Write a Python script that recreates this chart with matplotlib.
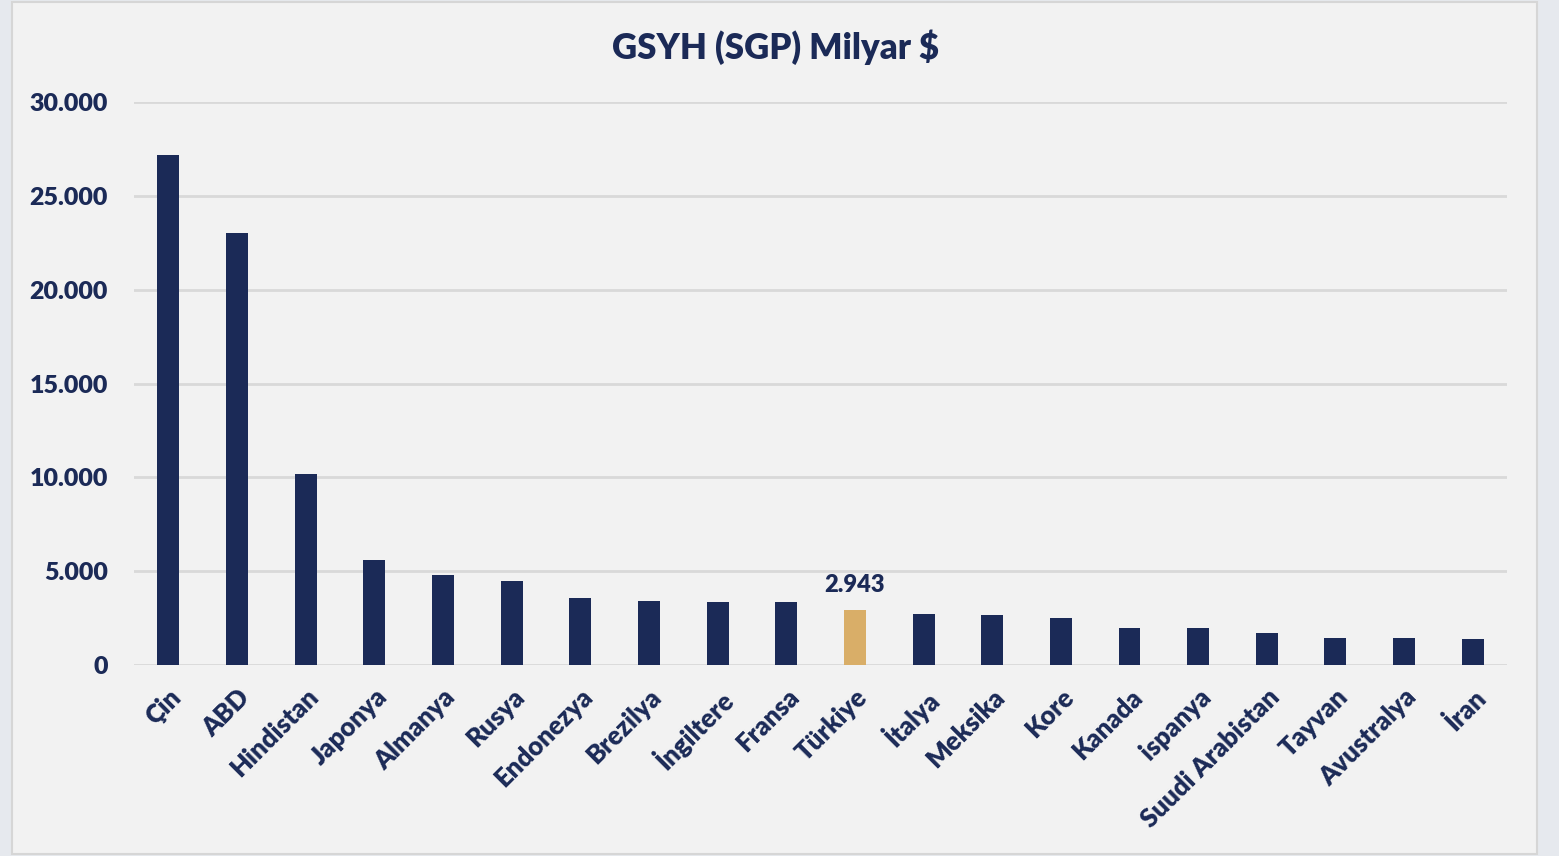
import matplotlib.pyplot as plt
from matplotlib.patches import Rectangle
from matplotlib.ticker import FuncFormatter

plt.rcParams['font.family'] = ['Lato', 'DejaVu Sans']
plt.rcParams['font.weight'] = 'bold'

countries = ['Çin', 'ABD', 'Hindistan', 'Japonya', 'Almanya', 'Rusya', 'Endonezya',
             'Brezilya', 'İngiltere', 'Fransa', 'Türkiye', 'İtalya', 'Meksika', 'Kore',
             'Kanada', 'ispanya', 'Suudi Arabistan', 'Tayvan', 'Avustralya', 'İran']
gdp_ppp = [27200, 23000, 10200, 5600, 4800, 4480, 3570, 3410, 3360, 3340,
           2943, 2720, 2670, 2490, 1990, 1960, 1720, 1430, 1420, 1400]
highlight = 'Türkiye'

navy = '#1b2a57'
gold = '#d9ae68'
colors = [gold if c == highlight else navy for c in countries]

fig = plt.figure(figsize=(15.59, 8.56), dpi=100)
fig.patch.set_facecolor('#e6e9ee')
panel = Rectangle((12 / 1559, 2 / 856), 1525 / 1559, 852 / 856,
                  transform=fig.transFigure, facecolor='#f2f2f2',
                  edgecolor='#d6d6d6', linewidth=1.5, zorder=-10)
fig.patches.append(panel)

ax = fig.add_axes([0.086, 0.2231, 0.8807, 0.6577])
ax.set_zorder(1)
ax.set_facecolor('none')
x = range(len(countries))
ax.bar(x, gdp_ppp, width=0.32, color=colors, zorder=3)

i = countries.index(highlight)
ax.annotate(f"{gdp_ppp[i]:,}".replace(',', '.'), (i, gdp_ppp[i]),
            xytext=(0, 10), textcoords='offset points', ha='center', va='bottom',
            fontsize=17, color=navy, fontweight='heavy')

ax.set_xlim(-0.5, len(countries) - 0.5)
ax.set_ylim(0, 30000)
ax.set_yticks(range(0, 30001, 5000))
ax.yaxis.set_major_formatter(FuncFormatter(lambda v, p: f"{int(v):,}".replace(',', '.')))
ax.grid(axis='y', color='#d9d9d9', linewidth=2, zorder=0)
for s in ax.spines.values():
    s.set_visible(False)
ax.tick_params(axis='y', length=0, labelsize=18, colors=navy, pad=19)
ax.tick_params(axis='x', length=0, labelsize=18.5, colors=navy, pad=14)
ax.set_xticks(list(x))
ax.set_xticklabels(countries, rotation=45, ha='right', rotation_mode='anchor')
for lbl in ax.get_xticklabels() + ax.get_yticklabels():
    lbl.set_fontweight('heavy')

fig.text(775 / 1559, 1 - 47 / 856, 'GSYH (SGP) Milyar $', ha='center', va='center',
         fontsize=25, color=navy, fontweight='heavy')

fig.savefig('out.png', dpi=100, facecolor=fig.get_facecolor())
